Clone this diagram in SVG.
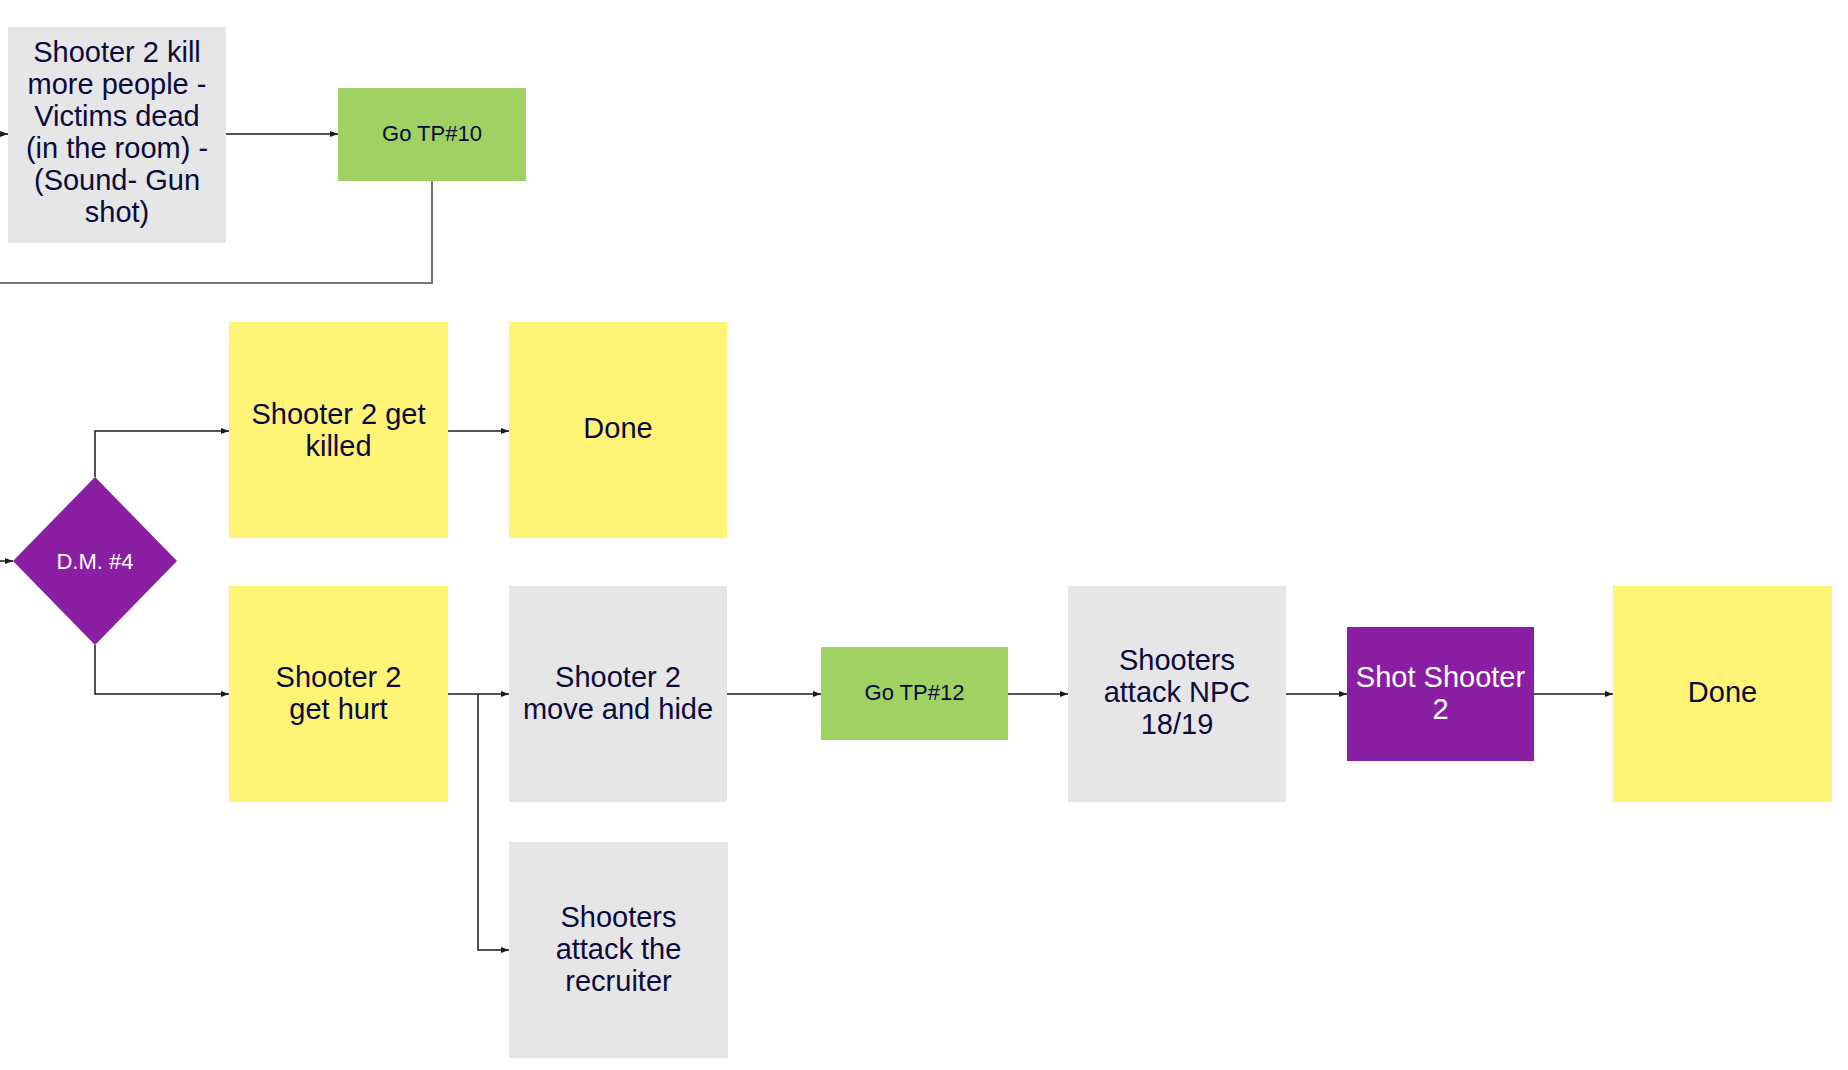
<svg xmlns="http://www.w3.org/2000/svg" width="1848" height="1070" viewBox="0 0 1848 1070">
<defs>
<style>
.gray{fill:#e6e6e6}
.yellow{fill:#fff475}
.green{fill:#9fd163}
.purple{fill:#8a1fa3}
.t{font-family:"Liberation Sans",Arial,Helvetica,sans-serif;font-size:29px;fill:#0a0a3c;text-anchor:middle}
.s{font-family:"Liberation Sans",Arial,Helvetica,sans-serif;font-size:22px;fill:#0a0a3c;text-anchor:middle}
.w{fill:#ffffff}
.c{fill:none;stroke:#1a1a1a;stroke-width:1.5}
.r{fill:none;stroke:#777777;stroke-width:2}
</style>
<marker id="ah" markerUnits="userSpaceOnUse" markerWidth="9" markerHeight="7" refX="8" refY="3" orient="auto">
<path d="M0,0 L8,3 L0,6 z" fill="#1a1a1a"/>
</marker>
</defs>
<rect width="1848" height="1070" fill="#ffffff"/>

<g id="connectors">
<path class="c" d="M0,134 L8,134" marker-end="url(#ah)"/>
<path class="c" d="M226,134 L338,134" marker-end="url(#ah)"/>
<path class="r" d="M432,181 L432,283 L0,283"/>
<path class="c" d="M0,561 L13,561" marker-end="url(#ah)"/>
<path class="c" d="M95,477 L95,431 L229,431" marker-end="url(#ah)"/>
<path class="c" d="M448,431 L509,431" marker-end="url(#ah)"/>
<path class="c" d="M95,645 L95,694 L229,694" marker-end="url(#ah)"/>
<path class="c" d="M448,694 L509,694" marker-end="url(#ah)"/>
<path class="c" d="M478,694 L478,950 L509,950" marker-end="url(#ah)"/>
<path class="c" d="M727,694 L821,694" marker-end="url(#ah)"/>
<path class="c" d="M1008,694 L1068,694" marker-end="url(#ah)"/>
<path class="c" d="M1286,694 L1347,694" marker-end="url(#ah)"/>
<path class="c" d="M1534,694 L1613,694" marker-end="url(#ah)"/>
</g>

<g id="kill">
<rect class="gray" x="8" y="27" width="218" height="216"/>
<text class="t"><tspan x="117" y="62">Shooter 2 kill</tspan><tspan x="117" y="94">more people -</tspan><tspan x="117" y="126">Victims dead</tspan><tspan x="117" y="158">(in the room) -</tspan><tspan x="117" y="190">(Sound- Gun</tspan><tspan x="117" y="222">shot)</tspan></text>
</g>

<g id="tp10">
<rect class="green" x="338" y="88" width="188" height="93"/>
<text class="s" x="432" y="141">Go TP#10</text>
</g>

<g id="dm4">
<polygon class="purple" points="95,477 177,561 95,645 13,561"/>
<text class="s w" x="95" y="569">D.M. #4</text>
</g>

<g id="killed">
<rect class="yellow" x="229" y="322" width="219" height="216"/>
<text class="t"><tspan x="338.5" y="424">Shooter 2 get</tspan><tspan x="338.5" y="456">killed</tspan></text>
</g>

<g id="done1">
<rect class="yellow" x="509" y="322" width="218" height="216"/>
<text class="t" x="618" y="438">Done</text>
</g>

<g id="hurt">
<rect class="yellow" x="229" y="586" width="219" height="216"/>
<text class="t"><tspan x="338.5" y="687">Shooter 2</tspan><tspan x="338.5" y="719">get hurt</tspan></text>
</g>

<g id="hide">
<rect class="gray" x="509" y="586" width="218" height="216"/>
<text class="t"><tspan x="618" y="687">Shooter 2</tspan><tspan x="618" y="719">move and hide</tspan></text>
</g>

<g id="recruiter">
<rect class="gray" x="509" y="842" width="219" height="216"/>
<text class="t"><tspan x="618.5" y="927">Shooters</tspan><tspan x="618.5" y="959">attack the</tspan><tspan x="618.5" y="991">recruiter</tspan></text>
</g>

<g id="tp12">
<rect class="green" x="821" y="647" width="187" height="93"/>
<text class="s" x="914.5" y="700">Go TP#12</text>
</g>

<g id="npc">
<rect class="gray" x="1068" y="586" width="218" height="216"/>
<text class="t"><tspan x="1177" y="670">Shooters</tspan><tspan x="1177" y="702">attack NPC</tspan><tspan x="1177" y="734">18/19</tspan></text>
</g>

<g id="shot">
<rect class="purple" x="1347" y="627" width="187" height="134"/>
<text class="t w"><tspan x="1440.5" y="687">Shot Shooter</tspan><tspan x="1440.5" y="719">2</tspan></text>
</g>

<g id="done2">
<rect class="yellow" x="1613" y="586" width="219" height="216"/>
<text class="t" x="1722.5" y="702">Done</text>
</g>
</svg>
